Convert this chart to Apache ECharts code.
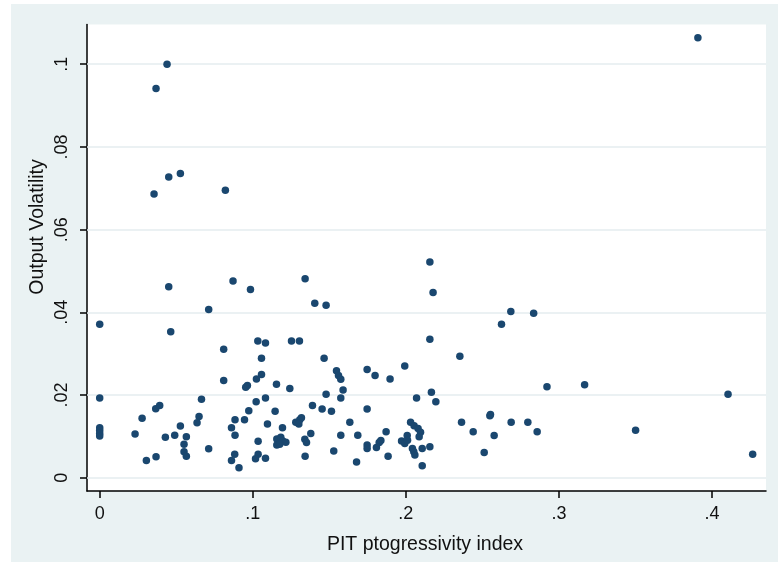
<!DOCTYPE html>
<html>
<head>
<meta charset="utf-8">
<script src="https://cdn.jsdelivr.net/npm/echarts@6/dist/echarts.min.js"></script>
<style>html,body{margin:0;padding:0;background:#fff}#c{width:778px;height:562px}</style>
</head>
<body>
<div id="c"></div>
<script>
const xTitle = 'PIT ptogressivity index';
const yTitle = 'Output Volatility';
const xTicks = [0, 0.1, 0.2, 0.3, 0.4];
const yTicks = [0, 0.02, 0.04, 0.06, 0.08, 0.1];
const xValues = [
  0.3908, 0.0440, 0.0368, 0.0451, 0.0527, 0.0355, 0.0821, 0.0451, 0.0871, 0.0985,
  0.1342, 0.2157, 0.2178, 0.0712, 0.0000, 0.0464, 0.0810, 0.1033, 0.1083, 0.1057,
  0.0810, 0.1057, 0.1024, 0.0965, 0.0954, 0.1155, 0.0000, 0.0665, 0.1083, 0.1022,
  0.0392, 0.0366, 0.0277, 0.0649, 0.0636, 0.0974, 0.1146, 0.0884, 0.0946, 0.1096,
  0.0527, 0.0861, 0.0000, 0.0000, 0.0000, 0.0000, 0.0231, 0.0490, 0.0429, 0.0566,
  0.0884, 0.0551, 0.1035, 0.1157, 0.0712, 0.0551, 0.0566, 0.0368, 0.0305, 0.0882,
  0.0861, 0.0910, 0.1035, 0.1018, 0.1083, 0.1157, 0.1183, 0.1196, 0.1216, 0.1176,
  0.1405, 0.1479, 0.1253, 0.1305, 0.2157, 0.2353, 0.1466, 0.1547, 0.1560, 0.1575,
  0.1747, 0.1799, 0.1897, 0.1993, 0.1242, 0.1590, 0.1479, 0.1575, 0.2167, 0.2196,
  0.2070, 0.1390, 0.1453, 0.1514, 0.1747, 0.2364, 0.2440, 0.1194, 0.1281, 0.1307,
  0.1318, 0.1301, 0.1634, 0.1379, 0.1575, 0.1686, 0.1871, 0.2031, 0.2054, 0.2080,
  0.2096, 0.2009, 0.2087, 0.1340, 0.1351, 0.1342, 0.1529, 0.1678, 0.1747, 0.1747,
  0.1808, 0.1826, 0.1837, 0.1884, 0.1972, 0.1993, 0.2011, 0.2043, 0.2052, 0.2059,
  0.2107, 0.2157, 0.2107, 0.2549, 0.2553, 0.2577, 0.2512, 0.2688, 0.2686, 0.2625,
  0.2835, 0.2922, 0.3168, 0.4105, 0.2797, 0.2858, 0.3501, 0.4266
];
const yValues = [
  0.1064, 0.1000, 0.0941, 0.0727, 0.0736, 0.0686, 0.0695, 0.0462, 0.0476, 0.0455,
  0.0481, 0.0522, 0.0448, 0.0407, 0.0371, 0.0353, 0.0311, 0.0331, 0.0326, 0.0289,
  0.0235, 0.0250, 0.0239, 0.0223, 0.0219, 0.0226, 0.0193, 0.0190, 0.0193, 0.0184,
  0.0175, 0.0167, 0.0144, 0.0148, 0.0133, 0.0162, 0.0161, 0.0140, 0.0140, 0.0130,
  0.0125, 0.0121, 0.0121, 0.0114, 0.0107, 0.0101, 0.0106, 0.0103, 0.0098, 0.0099,
  0.0103, 0.0081, 0.0088, 0.0094, 0.0070, 0.0063, 0.0052, 0.0051, 0.0042, 0.0057,
  0.0042, 0.0024, 0.0057, 0.0046, 0.0047, 0.0079, 0.0098, 0.0089, 0.0086, 0.0081,
  0.0422, 0.0417, 0.0331, 0.0331, 0.0335, 0.0294, 0.0289, 0.0259, 0.0247, 0.0238,
  0.0262, 0.0247, 0.0239, 0.0270, 0.0216, 0.0212, 0.0202, 0.0193, 0.0207, 0.0184,
  0.0193, 0.0175, 0.0166, 0.0161, 0.0166, 0.0134, 0.0111, 0.0121, 0.0134, 0.0140,
  0.0145, 0.0130, 0.0134, 0.0107, 0.0103, 0.0103, 0.0111, 0.0134, 0.0126, 0.0119,
  0.0110, 0.0102, 0.0099, 0.0093, 0.0085, 0.0052, 0.0065, 0.0038, 0.0079, 0.0071,
  0.0073, 0.0085, 0.0090, 0.0052, 0.0089, 0.0083, 0.0091, 0.0071, 0.0063, 0.0055,
  0.0071, 0.0075, 0.0029, 0.0150, 0.0153, 0.0102, 0.0061, 0.0134, 0.0402, 0.0371,
  0.0398, 0.0220, 0.0225, 0.0202, 0.0134, 0.0111, 0.0115, 0.0057
];

const points = xValues.map((x, i) => [x, yValues[i]]);
const fmt = v => {
  const r = +(+v).toFixed(3);
  return r === 0 ? '0' : String(r).replace(/^0\./, '.');
};
const FONT = '"Liberation Sans", Arial, sans-serif';
const chart = echarts.init(document.getElementById('c'), null, {renderer: 'canvas'});
chart.setOption({
  backgroundColor: '#ffffff',
  animation: false,
  graphic: [
    {type: 'rect', z: -10, silent: true, shape: {x: 11, y: 4, width: 767, height: 558}, style: {fill: '#eaf2f3'}},
    {type: 'text', z: 10, silent: true, x: 425, y: 545, style: {text: xTitle, font: '19.5px ' + FONT, fill: '#111', align: 'center', verticalAlign: 'middle'}},
    {type: 'text', z: 10, silent: true, x: 38, y: 227, rotation: Math.PI / 2, style: {text: yTitle, font: '19.5px ' + FONT, fill: '#111', align: 'center', verticalAlign: 'middle'}}
  ],
  grid: {left: 87, right: 12, top: 24.5, bottom: 71, show: true, backgroundColor: '#ffffff', borderWidth: 0},
  xAxis: {
    type: 'value', min: -0.0083, max: 0.4353,
    axisLine: {show: true, onZero: false, lineStyle: {color: '#000', width: 1.5}},
    axisTick: {show: true, customValues: xTicks, length: 7, lineStyle: {color: '#000', width: 1.5}},
    axisLabel: {customValues: xTicks, formatter: fmt, margin: 14, fontSize: 18, fontFamily: FONT, color: '#111'},
    splitLine: {show: false}
  },
  yAxis: {
    type: 'value', min: -0.0032, max: 0.1096,
    axisLine: {show: true, onZero: false, lineStyle: {color: '#000', width: 1.5}},
    axisTick: {show: true, customValues: yTicks, length: 7, lineStyle: {color: '#000', width: 1.5}},
    axisLabel: {customValues: yTicks, formatter: fmt, rotate: 90, margin: 16, fontSize: 18, fontFamily: FONT, color: '#111'},
    splitLine: {show: false}
  },
  series: [
    {
      type: 'scatter', data: [], z: 1, silent: true,
      markLine: {
        silent: true, symbol: 'none', animation: false, z: 1,
        label: {show: false},
        lineStyle: {color: '#e4edef', width: 1.5, type: 'solid'},
        data: yTicks.map(v => ({yAxis: v}))
      }
    },
    {
      type: 'scatter', data: points, z: 20,
      symbol: 'circle', symbolSize: 7.5,
      itemStyle: {color: '#1a476f', opacity: 1}
    }
  ]
});
</script>
</body>
</html>
